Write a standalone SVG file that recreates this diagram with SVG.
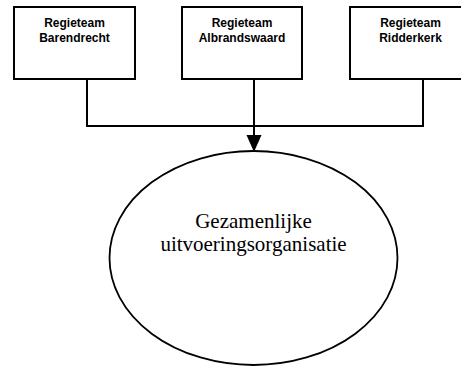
<svg xmlns="http://www.w3.org/2000/svg" width="461" height="367" viewBox="0 0 461 367">
<style>
.box{fill:#fff;stroke:#000;stroke-width:2}
.lbl{font-family:"Liberation Sans",Arial,sans-serif;font-weight:bold;font-size:12px;text-anchor:middle;fill:#000}
.big{font-family:"Liberation Serif","Times New Roman",serif;font-size:21px;text-anchor:middle;fill:#000}
.con{fill:none;stroke:#000;stroke-width:2}
</style>
<defs>
<marker id="arr" markerWidth="8" markerHeight="9" refX="7.5" refY="4.5" orient="auto" markerUnits="userSpaceOnUse" viewBox="0 0 8 9">
<path d="M0,0 L8,4.5 L0,9 z" fill="#000"/>
</marker>
</defs>
<g id="connectors">
<polyline class="con" points="87,79 87,126 423,126 423,79"/>
<line class="con" x1="254" y1="79" x2="254" y2="136"/>
<path d="M246.5,135 L261.5,135 L254,152 z" fill="#000"/>
</g>
<g id="barendrecht">
<rect class="box" x="14" y="7" width="121" height="72"/>
<text class="lbl" x="74.5" y="26.5">Regieteam</text>
<text class="lbl" x="74.5" y="41.5">Barendrecht</text>
</g>
<g id="albrandswaard">
<rect class="box" x="182" y="7" width="120" height="72"/>
<text class="lbl" x="242" y="26.5">Regieteam</text>
<text class="lbl" x="242" y="41.5">Albrandswaard</text>
</g>
<g id="ridderkerk">
<rect class="box" x="350" y="7" width="121" height="72"/>
<text class="lbl" x="410.5" y="26.5">Regieteam</text>
<text class="lbl" x="410.5" y="41.5">Ridderkerk</text>
</g>
<g id="uitvoering">
<ellipse cx="253.5" cy="258" rx="144" ry="107" fill="#fff" stroke="#000" stroke-width="1.8"/>
<text class="big" x="253.5" y="228">Gezamenlijke</text>
<text class="big" x="253.5" y="251">uitvoeringsorganisatie</text>
</g>
</svg>
